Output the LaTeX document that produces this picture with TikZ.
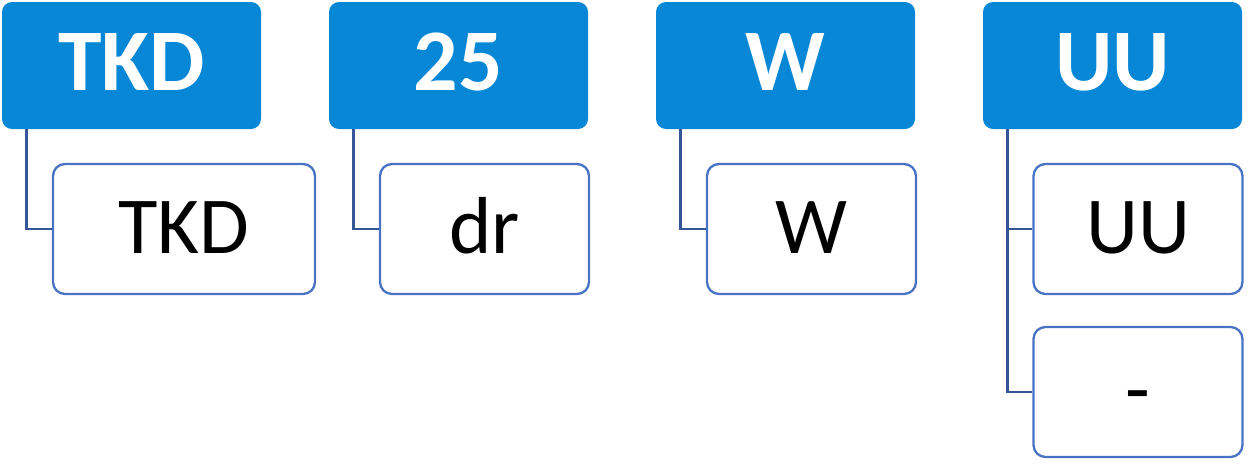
\documentclass[tikz,border=0pt]{standalone}
\usepackage{fontspec}
\setmainfont{Carlito}
\usepackage{tikz}
\usetikzlibrary{positioning,calc}
\definecolor{headblue}{RGB}{7,135,213}
\definecolor{subblue}{RGB}{72,114,196}
\definecolor{linkblue}{RGB}{52,85,150}
\tikzset{
  head-node/.style={fill=headblue, draw=none, rounded corners=0.2cm,
    minimum width=5.18cm, minimum height=2.54cm, inner sep=0pt,
    text=white, font=\fontsize{50}{60}\selectfont\bfseries,
    text height=1.14cm, text depth=0.16cm},
  sub-node/.style={draw=subblue, line width=1.3pt, fill=white, rounded corners=0.24cm,
    minimum width=4.18cm, minimum height=2.6cm, inner sep=0pt,
    font=\fontsize{46}{55}\selectfont, text height=1.04cm, text depth=0.08cm},
  tree-line/.style={draw=linkblue, line width=1.4pt}
}
\begin{document}
\begin{tikzpicture}
\useasboundingbox (0,0) rectangle (25.02,-9.26);
% top row
\node[head-node] (hdr-tkd) at (2.63,-1.31) {TKD};
\node[head-node] (hdr-num) at (9.17,-1.31) {25};
\node[head-node] (hdr-w) at (15.71,-1.31) {W};
\node[head-node] (hdr-uu) at (22.25,-1.31) {UU};
% second row
\node[sub-node, minimum width=5.24cm] (sub-tkd) at (3.68,-4.58) {TKD};
\node[sub-node] (sub-dr) at (9.69,-4.58) {dr};
\node[sub-node] (sub-w) at (16.23,-4.58) {W};
\node[sub-node] (sub-uu) at (22.76,-4.58) {UU};
\node[sub-node] (sub-dash) at (22.76,-7.84) {-};
% links
\draw[tree-line] ([xshift=0.5cm]hdr-tkd.south west) |- (sub-tkd.west);
\draw[tree-line] ([xshift=0.5cm]hdr-num.south west) |- (sub-dr.west);
\draw[tree-line] ([xshift=0.5cm]hdr-w.south west) |- (sub-w.west);
\draw[tree-line] ([xshift=0.5cm]hdr-uu.south west) |- (sub-uu.west);
\draw[tree-line] ([xshift=0.5cm]hdr-uu.south west) |- (sub-dash.west);
\end{tikzpicture}
\end{document}
